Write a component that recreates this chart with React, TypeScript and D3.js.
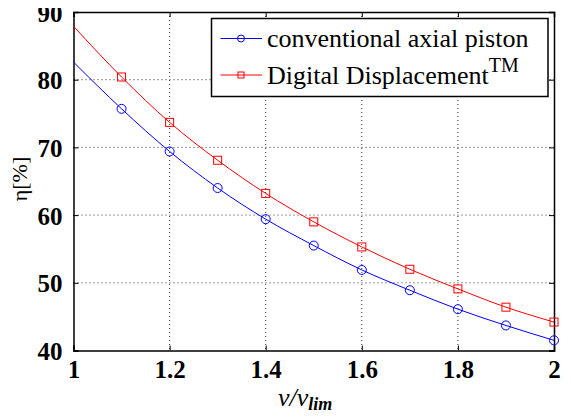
import React, { useEffect, useRef } from 'react';
import * as d3 from 'd3';

// speed ratio v/v_lim
const ratios = [1.0, 1.1, 1.2, 1.3, 1.4, 1.5, 1.6, 1.7, 1.8, 1.9, 2.0];
// efficiency [%]
const conventional = [82.6, 75.7, 69.4, 64.0, 59.4, 55.5, 51.9, 48.9, 46.1, 43.7, 41.5];
const digital = [87.9, 80.4, 73.7, 68.1, 63.2, 59.0, 55.3, 52.0, 49.1, 46.4, 44.2];

const xTicks = [1, 1.2, 1.4, 1.6, 1.8, 2];
const yTicks = [40, 50, 60, 70, 80, 90];

const W = 571;
const H = 419;
const plot = { left: 73.5, right: 554, top: 12, bottom: 350.5 };
const serif = "'Liberation Serif', 'DejaVu Serif', 'Noto Serif', Tinos, FreeSerif, 'Nimbus Roman', 'Times New Roman', Times, serif";

const App = () => {
  const ref = useRef<SVGSVGElement>(null);

  useEffect(() => {
    const svg = d3.select(ref.current);
    svg.selectAll('*').remove();

    const x = d3.scaleLinear().domain([1, 2]).range([plot.left, plot.right]);
    const y = d3.scaleLinear().domain([40, 90]).range([plot.bottom, plot.top]);

    const g = svg.append('g');

    // dotted grid
    g.selectAll('line.gx')
      .data(xTicks.slice(1, -1))
      .join('line')
      .attr('x1', d => x(d)).attr('x2', d => x(d))
      .attr('y1', plot.top).attr('y2', plot.bottom)
      .attr('stroke', '#333').attr('stroke-width', 1)
      .attr('stroke-dasharray', '1,3');
    g.selectAll('line.gy')
      .data(yTicks.slice(1, -1))
      .join('line')
      .attr('y1', d => y(d)).attr('y2', d => y(d))
      .attr('x1', plot.left).attr('x2', plot.right)
      .attr('stroke', '#333').attr('stroke-width', 1)
      .attr('stroke-dasharray', '1,3');

    // axes (inward ticks, box)
    const tl = 5;
    const bottomAx = g.append('g').attr('transform', `translate(0,${plot.bottom})`)
      .call(d3.axisBottom(x).tickValues(xTicks).tickSize(-tl).tickPadding(tl + 5).tickFormat(d3.format('')));
    const topAx = g.append('g').attr('transform', `translate(0,${plot.top})`)
      .call(d3.axisTop(x).tickValues(xTicks).tickSize(-tl).tickFormat(() => ''));
    const leftAx = g.append('g').attr('transform', `translate(${plot.left},0)`)
      .call(d3.axisLeft(y).tickValues(yTicks).tickSize(-tl).tickPadding(tl + 6));
    const rightAx = g.append('g').attr('transform', `translate(${plot.right},0)`)
      .call(d3.axisRight(y).tickValues(yTicks).tickSize(-tl).tickFormat(() => ''));
    [bottomAx, topAx, leftAx, rightAx].forEach(a => {
      a.attr('font-family', null).attr('font-size', null);
      a.select('.domain').attr('stroke', '#000').attr('stroke-width', 1.5);
      a.selectAll('.tick line').attr('stroke', '#000');
      a.selectAll('text')
        .style('font-family', serif)
        .style('font-size', '25px').style('font-weight', 'bold').attr('fill', '#000');
    });
    leftAx.selectAll('text').attr('dy', '0.36em');
    bottomAx.selectAll('text').attr('dy', '0.71em');

    const line = d3.line<number>()
      .x((_, i) => x(ratios[i]))
      .y(d => y(d))
      .curve(d3.curveMonotoneX);

    const series = [
      { name: 'conventional', values: conventional, color: '#0000ff', marker: 'circle' },
      { name: 'digital', values: digital, color: '#ff0000', marker: 'square' },
    ];

    series.forEach(s => {
      g.append('path').datum(s.values)
        .attr('d', line)
        .attr('fill', 'none').attr('stroke', s.color).attr('stroke-width', 1);
      const pts = s.values.map((v, i) => ({ r: ratios[i], v })).filter(p => p.r > 1);
      if (s.marker === 'circle') {
        g.selectAll(`circle.${s.name}`).data(pts).join('circle')
          .attr('cx', d => x(d.r)).attr('cy', d => y(d.v)).attr('r', 4.5)
          .attr('fill', 'none').attr('stroke', s.color).attr('stroke-width', 1);
      } else {
        g.selectAll(`rect.${s.name}`).data(pts).join('rect')
          .attr('x', d => x(d.r) - 4).attr('y', d => y(d.v) - 4)
          .attr('width', 8).attr('height', 8)
          .attr('fill', 'none').attr('stroke', s.color).attr('stroke-width', 1);
      }
    });

    // legend
    const lg = g.append('g');
    lg.append('rect')
      .attr('x', 211.5).attr('y', 18.5).attr('width', 336.5).attr('height', 78)
      .attr('fill', '#fff').attr('stroke', '#000').attr('stroke-width', 1.5);
    const rows = [
      { y: 38.5, color: '#0000ff', marker: 'circle' },
      { y: 75, color: '#ff0000', marker: 'square' },
    ];
    rows.forEach(r => {
      lg.append('line').attr('x1', 220.5).attr('x2', 262).attr('y1', r.y).attr('y2', r.y)
        .attr('stroke', r.color).attr('stroke-width', 1);
      if (r.marker === 'circle') {
        lg.append('circle').attr('cx', 241).attr('cy', r.y).attr('r', 3.5)
          .attr('fill', 'none').attr('stroke', r.color);
      } else {
        lg.append('rect').attr('x', 238).attr('y', r.y - 3).attr('width', 6).attr('height', 6)
          .attr('fill', 'none').attr('stroke', r.color);
      }
    });
    lg.append('text').attr('x', 267).attr('y', 47).style('font-family', serif)
      .style('font-size', '26px').attr('fill', '#000').text('conventional axial piston');
    const t2 = lg.append('text').attr('x', 267).attr('y', 84).style('font-family', serif)
      .style('font-size', '26px').attr('fill', '#000');
    t2.append('tspan').text('Digital Displacement');
    t2.append('tspan').attr('dy', -12).style('font-size', '20px').text('TM');

    // axis labels
    const xl = g.append('text').attr('x', 278).attr('y', 406)
      .style('font-family', serif).style('font-size', '26px').style('font-style', 'italic').attr('fill', '#000');
    xl.append('tspan').text('v/v');
    xl.append('tspan').attr('dy', 4).style('font-size', '18px').style('font-weight', 'bold').text('lim');

    g.append('text')
      .attr('transform', 'translate(27,179) rotate(-90)')
      .attr('text-anchor', 'middle')
      .style('font-family', serif).style('font-size', '22px').attr('fill', '#000')
      .text('η[%]');
  }, []);

  return <svg ref={ref} width={W} height={H} style={{ display: 'block', margin: '-8px' }} />;
};

export default App;
